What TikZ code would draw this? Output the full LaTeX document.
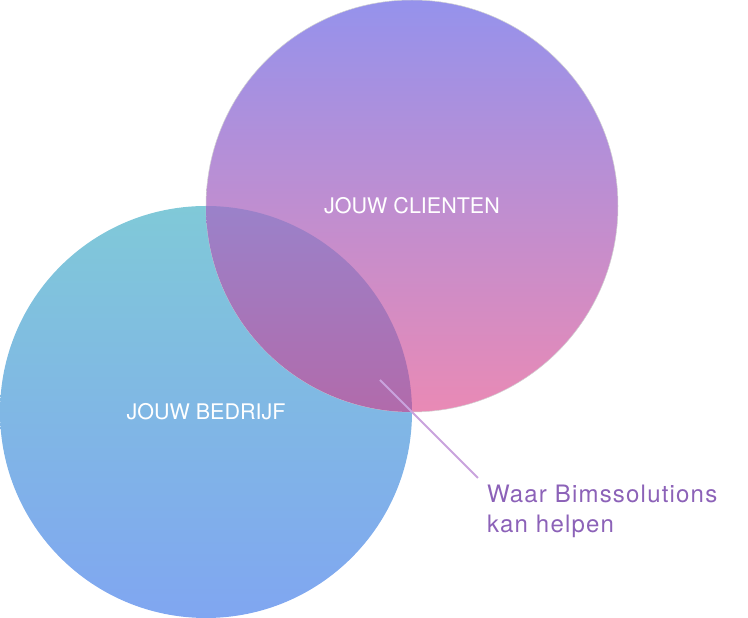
\documentclass[tikz,border=0pt]{standalone}
\usepackage{fontspec}
\setmainfont{TeX Gyre Heros}
\usetikzlibrary{
    positioning
}
\definecolor{bedrijftop}{HTML}{80C9D8}
\definecolor{bedrijfbottom}{HTML}{80A6F1}
\definecolor{clienttop}{HTML}{9592EC}
\definecolor{clientbottom}{HTML}{E98AB5}
\definecolor{overlaptop}{HTML}{9A82CA}
\definecolor{overlapbottom}{HTML}{B26AAA}
\definecolor{leader}{HTML}{C9A3DD}
\definecolor{helptext}{HTML}{8C62B8}
\tikzset{%
    venn circle/.style={%
        circle,
        inner sep = 0pt,
        outer sep = 0pt,
        minimum size=412pt,
        text=white,
        font=\fontsize{21.5}{26}\selectfont
    },
    bedrijf/.style={%
        venn circle,
        top color=bedrijftop,
        bottom color=bedrijfbottom,
    },
    client/.style={%
        venn circle,
        draw=black!18,
        line width=0.5pt,
        top color=clienttop,
        bottom color=clientbottom,
    },
    callout/.style={%
        inner sep = 0pt,
        outer sep = 0pt,
        align=left,
        text=helptext,
        font=\addfontfeatures{LetterSpace=5}\fontsize{24}{30}\selectfont
    },
}

\begin{document}
\begin{tikzpicture}[x=1pt,y=1pt]
    \useasboundingbox (0,0) rectangle (748,618);

    \node[bedrijf] (B) at (206,206) {};
    \node[client] (C) at (412,412) {};

    % overlap
    \begin{scope}
        \clip (206,206) circle[radius=206pt];
        \clip (412,412) circle[radius=206pt];
        \shade[top color=overlaptop, bottom color=overlapbottom] (200,200) rectangle (415,415);
    \end{scope}

    \node[text=white, font=\fontsize{21.5}{26}\selectfont] (Btext) at (B.center) {JOUW BEDRIJF};
    \node[text=white, font=\fontsize{21.5}{26}\selectfont] (Ctext) at (C.center) {JOUW CLIENTEN};

    \coordinate (spot) at (380,238);
    \coordinate (tail) at (478,140);
    \node[callout, anchor=north west] (help) at (487,133) {Waar Bimssolutions\\kan helpen};

    \draw[leader, line width=1.8pt] (spot) -- (tail);
\end{tikzpicture}
\end{document}
